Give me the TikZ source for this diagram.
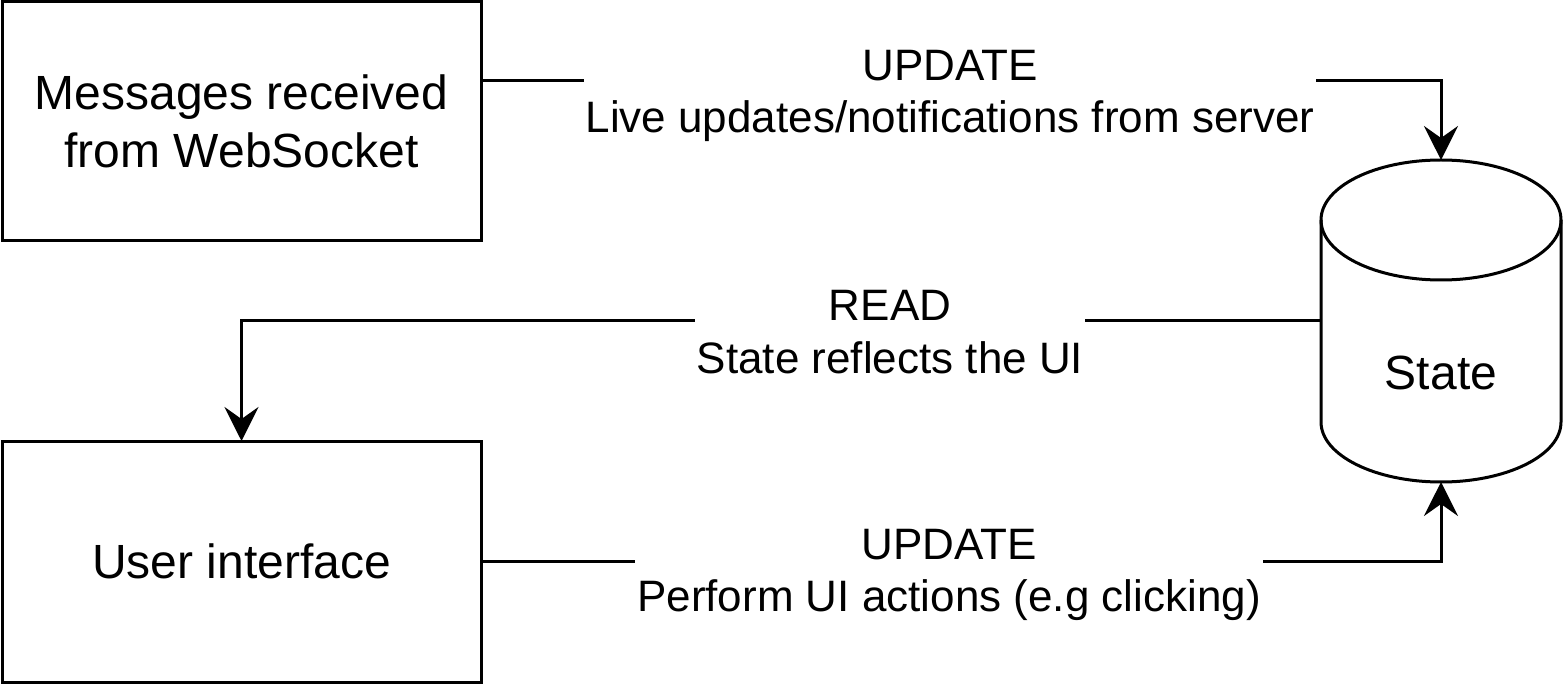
\documentclass[tikz,border=0pt]{standalone}
\usepackage{fontspec}
\setmainfont{Liberation Sans}
\usetikzlibrary{arrows.meta}

\tikzset{every picture/.style={line width=1.5pt}}

\begin{document}
\begin{tikzpicture}[x=0.5pt, y=-0.5pt,
    box/.style={draw, rectangle, outer sep=0pt, minimum width=239.5pt, align=center, font=\fontsize{24}{28.8}\selectfont},
    lbl/.style={fill=white, inner sep=1pt, align=center, font=\fontsize{22}{26.4}\selectfont},
    arr/.style={-{Stealth[length=17pt, width=17pt, inset=6pt]}}]
    \useasboundingbox (0,0) rectangle (1564,684);
    \node[box, minimum height=119.5pt] (msgs) at (241.5,121.5) {Messages received\\from WebSocket};
    \node[box, minimum height=120.5pt] (ui) at (241.5,561.5) {User interface};
    \node[outer sep=0pt, inner sep=0pt, minimum width=120pt, minimum height=161pt] (state) at (1441,321) {};
    \node[font=\fontsize{24}{28.8}\selectfont] (stateTxt) at (1441,373) {State};
    % cylinder
    \draw ([yshift=-30pt]state.north) ellipse [x radius=60pt, y radius=30pt];
    \draw ([yshift=-30pt]state.north west) -- ([yshift=30pt]state.south west)
        arc [start angle=180, end angle=360, x radius=60pt, y radius=30pt]
        -- ([yshift=-30pt]state.north east);
    \coordinate (k1) at (1441,81);
    \draw[arr] (msgs.east |- k1) -- (k1) -- (state.north);
    \draw[arr] (state.west) -| (ui.north);
    \draw[arr] (ui.east) -| (state.south);
    \node[lbl] (updTop) at (950,96) {UPDATE\\Live updates/notifications from server};
    \node[lbl] (read) at (890,332) {READ\\State reflects the UI};
    \node[lbl] (updBot) at (949,575) {UPDATE\\Perform UI actions (e.g clicking)};
\end{tikzpicture}
\end{document}
